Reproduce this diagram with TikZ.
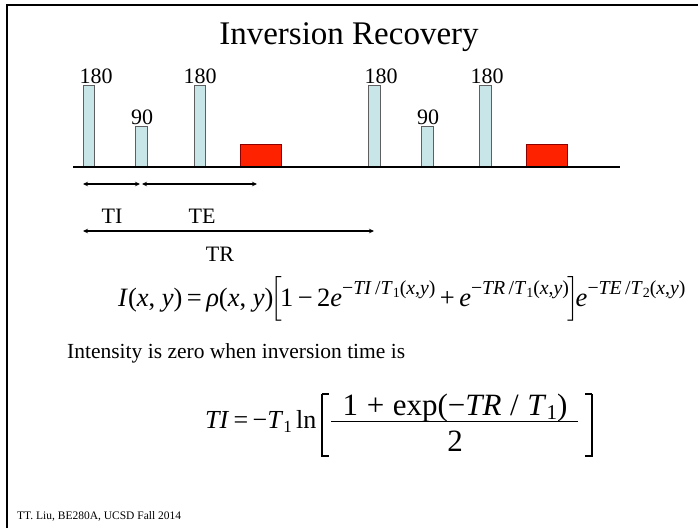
\RequirePackage{fix-cm}
\documentclass[tikz,border=0pt]{standalone}
\usepackage{amsmath}
\usepackage{fontspec}
\setmainfont{Liberation Serif}
\usetikzlibrary{arrows.meta}
\definecolor{barblue}{RGB}{200,230,232}
\definecolor{bargray}{RGB}{95,95,95}
\definecolor{echored}{RGB}{255,34,0}
\newcommand{\sups}[1]{\raisebox{11.5pt}{\fontsize{19.8}{21}\selectfont #1}}
\newcommand{\subs}[1]{\raisebox{-3pt}{\fontsize{14}{16}\selectfont #1}}
\newcommand{\subb}[1]{\raisebox{-4pt}{\fontsize{17}{19}\selectfont #1}}
\newcommand{\subn}[1]{\raisebox{-4.5pt}{\fontsize{21}{23}\selectfont #1}}
\begin{document}
\begin{tikzpicture}[x=1pt,y=-1pt,
  pulse/.style={draw=bargray, fill=barblue, line width=1pt},
  echo/.style={draw=red!55!black, fill=echored, line width=0.8pt},
  lbl/.style={anchor=base, inner sep=0pt, font=\fontsize{22}{26}\selectfont},
  span/.style={line width=1.3pt, {Stealth[length=5pt,width=4.5pt]}-{Stealth[length=5pt,width=4.5pt]}},
  frame/.style={line width=1.6pt},
  brk/.style={line width=1.3pt},
  txt/.style={anchor=base west, inner sep=0pt}]
\useasboundingbox (0,0) rectangle (698,528);
\draw[frame] (7,528) -- (7,5) -- (698,5);
\node[anchor=base, inner sep=0pt, font=\fontsize{33}{38}\selectfont] (title) at (349,44) {Inversion Recovery};
% pulses
\draw[pulse] (83,167) rectangle (94,85);
\draw[pulse] (135,167) rectangle (147,126);
\draw[pulse] (194,167) rectangle (205,85);
\draw[echo] (240,167) rectangle (281,144);
\draw[pulse] (368,167) rectangle (380,85);
\draw[pulse] (421,167) rectangle (433,126);
\draw[pulse] (479,167) rectangle (491,85);
\draw[echo] (526,167) rectangle (567,144);
\coordinate (axisL) at (73,167);
\coordinate (axisR) at (620,167);
\draw[line width=1.2pt] (axisL) -- (axisR);
% labels
\node[lbl] (p1) at (96,83) {180};
\node[lbl] (p2) at (142,124) {90};
\node[lbl] (p3) at (200,83) {180};
\node[lbl] (p4) at (381,83) {180};
\node[lbl] (p5) at (428,124) {90};
\node[lbl] (p6) at (487,83) {180};
% timing arrows
\coordinate (tiA) at (83,184);
\coordinate (tiB) at (140,184);
\coordinate (teA) at (142,184);
\coordinate (teB) at (257,184);
\coordinate (trA) at (83,231);
\coordinate (trB) at (374,231);
\draw[span] (tiA) -- (tiB);
\draw[span] (teA) -- (teB);
\draw[span] (trA) -- (trB);
\node[lbl] (ti) at (112,223) {TI};
\node[lbl] (te) at (202,223) {TE};
\node[lbl] (tr) at (220,261) {TR};
% signal equation
\node[txt, font=\fontsize{26.5}{30}\selectfont] (signal) at (118,306)
 {\textit{I}(\textit{x}, \textit{y})\,=\,\textit{ρ}(\textit{x}, \textit{y})\kern-3pt$\Bigl[$\kern-2pt 1\,−\,2\textit{e}\sups{−\textit{TI}\,/\textit{T}\subs{1}(\textit{x},\textit{y})}\,+\,\textit{e}\sups{−\textit{TR}\,/\textit{T}\subs{1}(\textit{x},\textit{y})}\kern-2pt$\Bigr]$\kern-3pt\textit{e}\sups{−\textit{TE}\,/\textit{T}\subs{2}(\textit{x},\textit{y})}};
\node[txt, font=\fontsize{21.5}{24}\selectfont] (note) at (67,358) {Intensity is zero when inversion time is};
% TI equation
\node[txt, font=\fontsize{26}{30}\selectfont] (tilhs) at (205,428)
 {\textit{TI}\,=\,−\textit{T}\subb{1}\,ln};
\coordinate (lbT) at (327,394);
\coordinate (lbB) at (327,456);
\coordinate (rbT) at (587,394);
\coordinate (rbB) at (587,456);
\draw[brk] ([xshift=-5pt]lbT) -- ++(7pt,0) ([xshift=-5pt]lbT) -- ([xshift=-5pt]lbB) -- ++(7pt,0);
\draw[brk] ([xshift=5pt]rbT) -- ++(-7pt,0) ([xshift=5pt]rbT) -- ([xshift=5pt]rbB) -- ++(-7pt,0);
\node[anchor=base, inner sep=0pt, font=\fontsize{31}{34}\selectfont] (num) at (455,415)
 {1\;+\;exp(−\textit{TR}\;/\;\textit{T}\subn{1})};
\coordinate (barL) at (331,421);
\coordinate (barR) at (578,421);
\draw[line width=1pt] (barL) -- (barR);
\node[anchor=base, inner sep=0pt, font=\fontsize{31}{34}\selectfont] (den) at (455,451) {2};
\node[txt, font=\fontsize{11.5}{13}\selectfont] (foot) at (17,519) {TT. Liu, BE280A, UCSD Fall 2014};
\end{tikzpicture}
\end{document}
